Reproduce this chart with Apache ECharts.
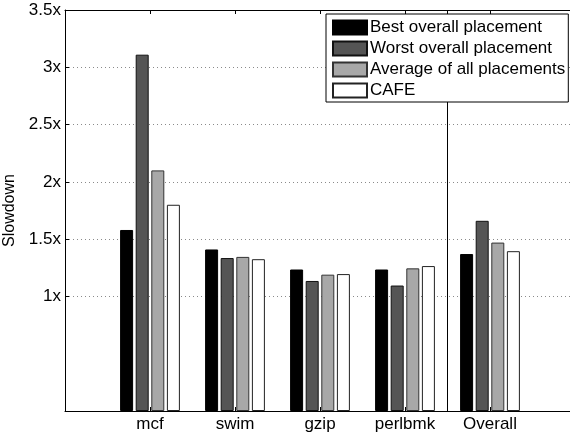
<!DOCTYPE html>
<html>
<head>
<meta charset="utf-8">
<script src="https://cdn.jsdelivr.net/npm/echarts@6/dist/echarts.min.js"></script>
<style>html,body{margin:0;padding:0;background:#fff}#c{width:570px;height:438px}</style>
</head>
<body>
<div id="c"></div>
<script>
const categories = ['mcf', 'swim', 'gzip', 'perlbmk', 'Overall'];
const seriesNames = ['Best overall placement', 'Worst overall placement', 'Average of all placements', 'CAFE'];
const best = [1.58, 1.41, 1.235, 1.235, 1.37];
const worst = [3.11, 1.335, 1.135, 1.095, 1.66];
const average = [2.10, 1.345, 1.19, 1.245, 1.47];
const cafe = [1.80, 1.325, 1.195, 1.265, 1.395];
const yTicks = [1, 1.5, 2, 2.5, 3, 3.5];
const separatorAt = 4.5;

const font = "'Liberation Sans', Arial, Helvetica, sans-serif";
const fills = ['#000000', '#555555', '#a8a8a8', '#ffffff'];
const borders = ['#000000', '#111111', '#333333', '#222222'];
const values = [best, worst, average, cafe];
const paddedCats = [''].concat(categories, ['']);

const chart = echarts.init(document.getElementById('c'), null, {renderer: 'canvas'});
const barSeries = values.map((arr, i) => ({
  name: seriesNames[i],
  type: 'bar',
  xAxisIndex: 0,
  data: [null].concat(arr, [null]),
  barWidth: 13,
  barGap: '20%',
  itemStyle: {color: fills[i], borderColor: borders[i], borderWidth: 1},
  emphasis: {disabled: true},
  animation: false
}));

chart.setOption({
  animation: false,
  textStyle: {fontFamily: font},
  grid: {left: 65, top: 10, width: 510, height: 401, containLabel: false, outerBoundsMode: 'none'},
  legend: {
    data: seriesNames,
    orient: 'vertical',
    left: 326, top: 14,
    itemWidth: 34, itemHeight: 14, itemGap: 4,
    padding: [5, 3, 3, 6],
    borderColor: '#000', borderWidth: 1,
    backgroundColor: '#fff',
    icon: 'rect',
    selectedMode: false,
    textStyle: {fontSize: 17, color: '#000', fontFamily: font, padding: [0, 0, 0, -2]}
  },
  xAxis: [{
    type: 'category',
    data: paddedCats,
    boundaryGap: false,
    position: 'bottom',
    axisLine: {show: true, lineStyle: {color: '#000', width: 1}},
    axisTick: {show: true, inside: true, length: 4, lineStyle: {color: '#000'}},
    axisLabel: {interval: 0, fontSize: 17, color: '#000', margin: 5, fontFamily: font},
    splitLine: {show: false}
  }, {
    type: 'value',
    position: 'top',
    min: 0, max: 6, interval: 1,
    axisLine: {show: true, onZero: false, lineStyle: {color: '#000', width: 1}},
    axisTick: {show: true, inside: true, length: 4, lineStyle: {color: '#000'}},
    axisLabel: {show: false},
    splitLine: {show: false}
  }],
  yAxis: {
    type: 'value',
    min: 0, max: 3.5, interval: 0.5,
    name: 'Slowdown',
    nameLocation: 'middle',
    nameGap: 44,
    nameTextStyle: {fontSize: 16, color: '#000', fontFamily: font},
    axisLine: {show: true, lineStyle: {color: '#000', width: 1}},
    axisTick: {show: true, inside: true, length: 4, customValues: yTicks, lineStyle: {color: '#000'}},
    axisLabel: {customValues: yTicks, fontSize: 17, color: '#000', margin: 4, fontFamily: font,
      formatter: v => v + 'x'},
    splitLine: {show: true, lineStyle: {color: '#8a8a8a', width: 1, type: [1, 3]}}
  },
  series: barSeries.concat([{
    type: 'line',
    xAxisIndex: 1,
    data: [[separatorAt, 0], [separatorAt, 3.5]],
    symbol: 'none',
    silent: true,
    lineStyle: {color: '#000', width: 1},
    animation: false
  }])
});
</script>
</body>
</html>
